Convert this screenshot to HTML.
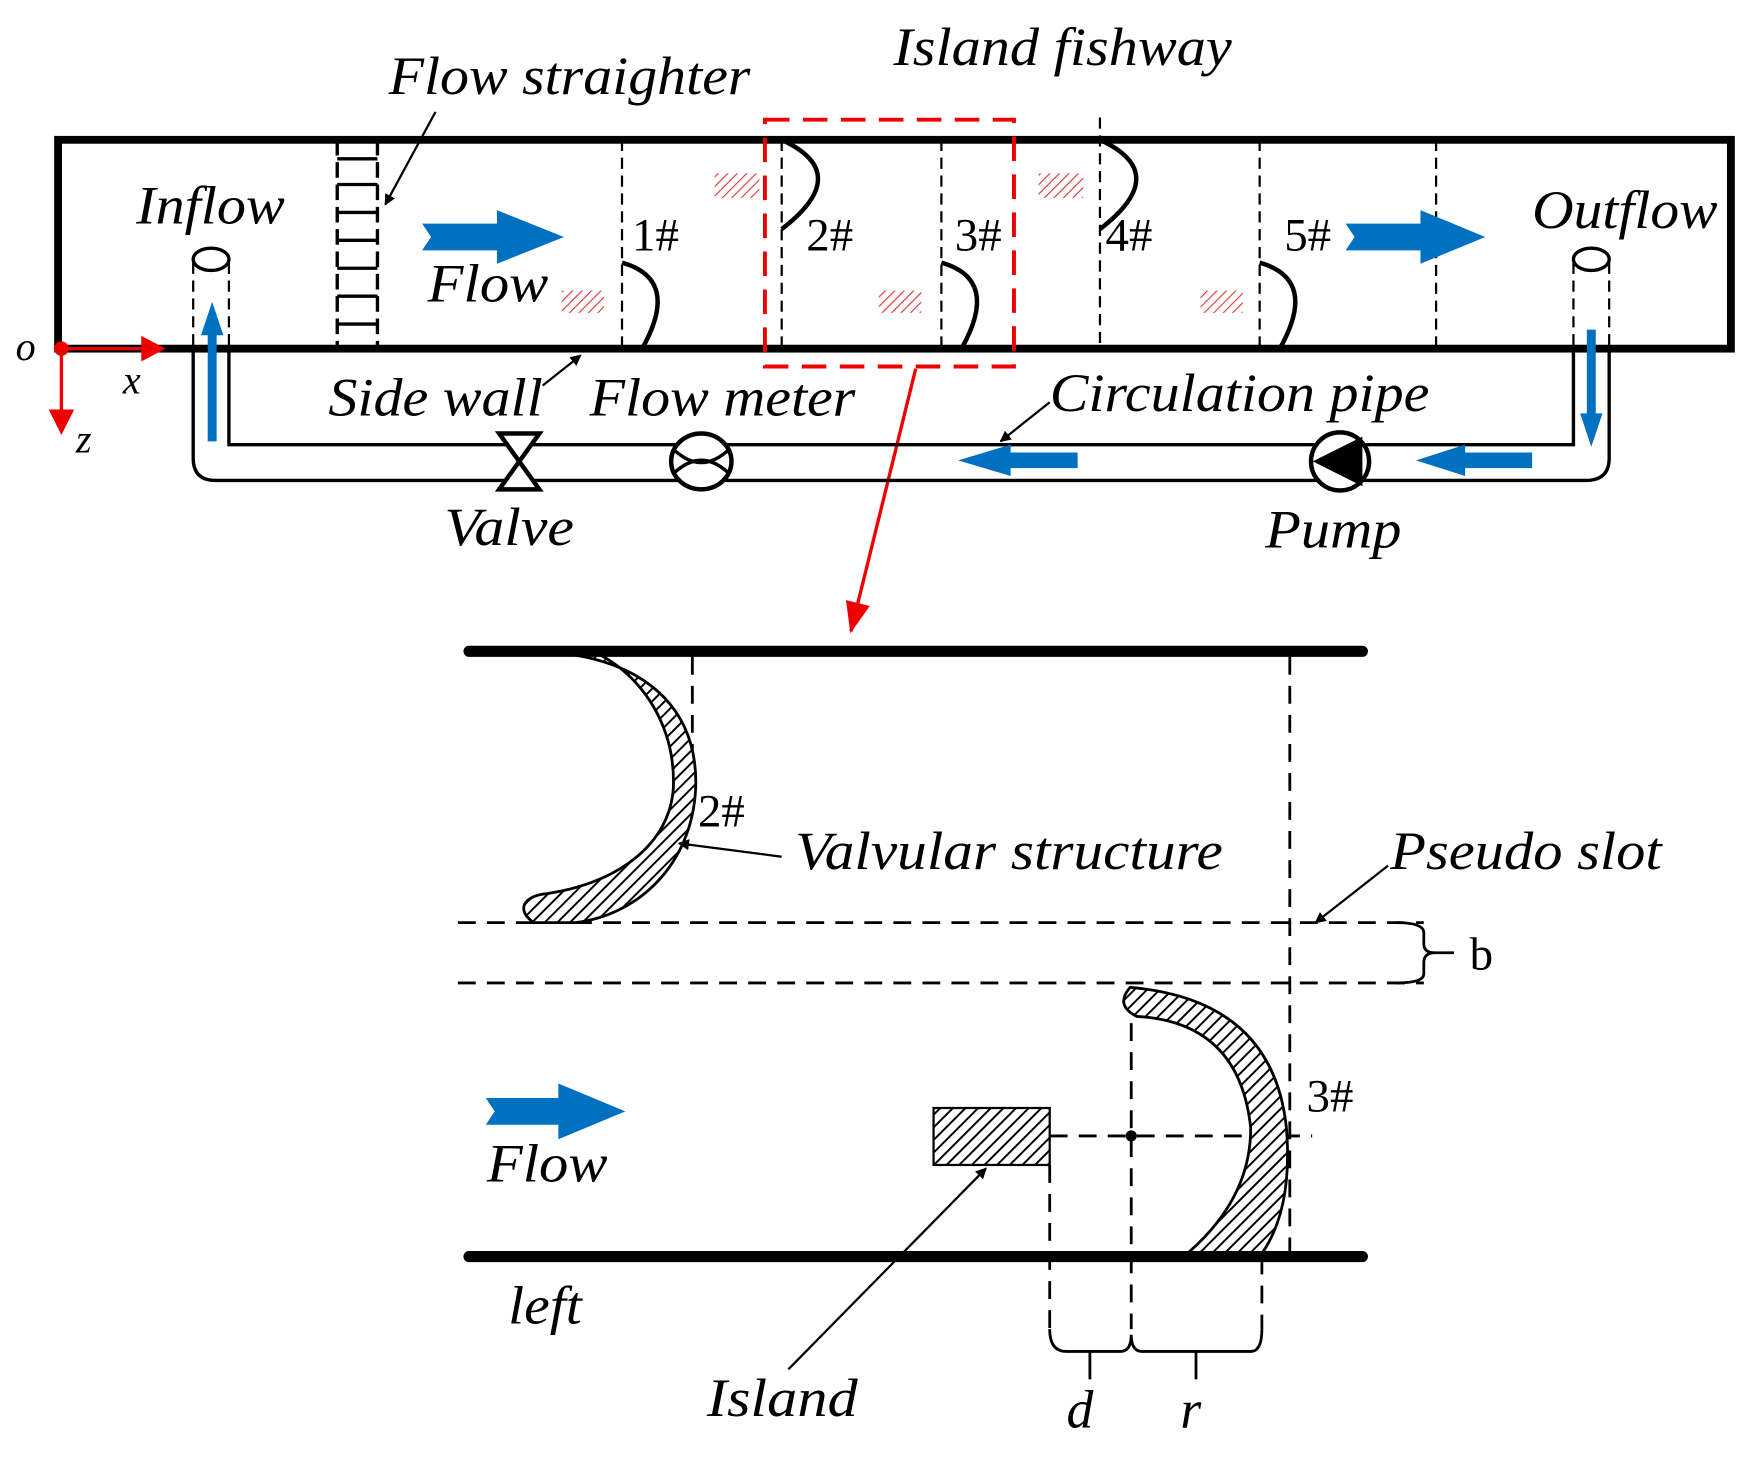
<!DOCTYPE html>
<html><head><meta charset="utf-8"><style>html,body{margin:0;padding:0;background:#fff}svg{display:block}</style></head>
<body>
<svg width="1751" height="1460" viewBox="0 0 1568 1307" xmlns="http://www.w3.org/2000/svg" font-family="Liberation Serif, serif" font-style="italic">
<defs>
<pattern id="h" width="8" height="8" patternUnits="userSpaceOnUse" patternTransform="rotate(45)"><rect width="8" height="8" fill="#fff"/><line x1="0" y1="0" x2="0" y2="8" stroke="#000" stroke-width="3.5"/></pattern>
<pattern id="hr" width="6" height="6" patternUnits="userSpaceOnUse" patternTransform="rotate(45)"><line x1="0" y1="0" x2="0" y2="6" stroke="#d33" stroke-width="2"/></pattern>
<marker id="ah" markerWidth="10" markerHeight="10" refX="9" refY="5" orient="auto" markerUnits="userSpaceOnUse"><path d="M0,0 L10,5 L0,10 Z" fill="#000"/></marker>
<marker id="ar" markerWidth="28" markerHeight="22" refX="26" refY="11" orient="auto" markerUnits="userSpaceOnUse"><path d="M0,0 L28,11 L0,22 Z" fill="#e00"/></marker>
</defs>
<rect width="1568" height="1307" fill="#fff"/>
<rect x="52" y="125" width="1498" height="187" fill="none" stroke="#000" stroke-width="7"/>
<g stroke="#000" stroke-width="2" stroke-dasharray="10,6">
<line x1="557" y1="125" x2="557" y2="312"/><line x1="700" y1="125" x2="700" y2="312"/><line x1="843" y1="125" x2="843" y2="312"/><line x1="985" y1="105" x2="985" y2="312"/><line x1="1128" y1="125" x2="1128" y2="312"/><line x1="1286" y1="125" x2="1286" y2="312"/>
<line x1="173" y1="235" x2="173" y2="312"/><line x1="205" y1="235" x2="205" y2="312"/><line x1="1409" y1="235" x2="1409" y2="312"/><line x1="1441" y1="235" x2="1441" y2="312"/>
</g>
<g stroke="#000" stroke-width="3"><line x1="302" y1="125" x2="302" y2="312" stroke-dasharray="14,6"/><line x1="338" y1="125" x2="338" y2="312" stroke-dasharray="14,6"/>
<line x1="302" y1="142" x2="338" y2="142"/><line x1="302" y1="165" x2="338" y2="165"/><line x1="302" y1="190" x2="338" y2="190"/><line x1="302" y1="215" x2="338" y2="215"/><line x1="302" y1="240" x2="338" y2="240"/><line x1="302" y1="265" x2="338" y2="265"/><line x1="302" y1="290" x2="338" y2="290"/></g>
<g fill="none" stroke="#000" stroke-width="4">
<path d="M557 235 Q610 250 575 312"/><path d="M843 235 Q896 250 861 312"/><path d="M1128 235 Q1181 250 1146 312"/>
<path d="M700 125 Q765 155 700 205"/><path d="M985 125 Q1050 155 985 205"/>
</g>
<g fill="url(#hr)"><rect x="640" y="155" width="40" height="22"/><rect x="930" y="155" width="40" height="22"/><rect x="503" y="260" width="38" height="20"/><rect x="787" y="260" width="38" height="20"/><rect x="1075" y="260" width="38" height="20"/></g>
<rect x="685" y="107" width="223" height="221" fill="none" stroke="#e00" stroke-width="3.5" stroke-dasharray="22,12"/>
<line x1="820" y1="330" x2="762" y2="565" stroke="#e00" stroke-width="3" marker-end="url(#ar)"/>
<g fill="none" stroke="#000" stroke-width="3"><path d="M173 312 V410 Q173 430 193 430 H1420 Q1441 430 1441 410 V312"/><path d="M205 312 V398 H1409 V312"/></g>
<ellipse cx="189" cy="232" rx="16" ry="10" fill="#fff" stroke="#000" stroke-width="3"/>
<ellipse cx="1425" cy="232" rx="16" ry="10" fill="#fff" stroke="#000" stroke-width="3"/>
<g stroke="#000" stroke-width="4"><path d="M447 388 H483 L447 438 H483 Z" fill="#fff"/>
<ellipse cx="628" cy="413" rx="27" ry="25" fill="#fff"/><path d="M604 403 Q628 425 652 403 M604 423 Q628 401 652 423" fill="none" stroke-width="3"/>
<circle cx="1200" cy="413" r="26" fill="#fff"/><path d="M1218 394 L1180 413 L1218 432 Z" fill="#000"/></g>
<g fill="#0070c0">
<path d="M378 200 H445 V188 L505 212 L445 236 V224 H378 L386 212 Z"/>
<path d="M1205 200 H1272 V188 L1330 212 L1272 236 V224 H1205 L1213 212 Z"/>
<path d="M435 983 H500 V970 L560 995 L500 1020 V1007 H435 L443 995 Z"/>
<path d="M965 405 H905 V398 L858 412 L905 426 V419 H965 Z"/>
<path d="M1372 405 H1312 V398 L1268 412 L1312 426 V419 H1372 Z"/>
<path d="M186 395 V300 H180 L190 270 L200 300 H194 V395 Z"/>
<path d="M1421 295 V370 H1415 L1425 400 L1435 370 H1429 V295 Z"/>
</g>
<g stroke="#e00" stroke-width="3" fill="#e00"><line x1="55" y1="312" x2="128" y2="312"/><path d="M128 303 L145 312 L128 321Z"/><line x1="55" y1="312" x2="55" y2="370"/><path d="M46 368 L55 386 L64 368Z"/><circle cx="55" cy="312" r="5"/></g>
<g font-size="48" fill="#000">
<text x="348" y="84" textLength="324" lengthAdjust="spacingAndGlyphs">Flow straighter</text>
<text x="800" y="58" textLength="303" lengthAdjust="spacingAndGlyphs">Island fishway</text>
<text x="122" y="200" textLength="133" lengthAdjust="spacingAndGlyphs">Inflow</text>
<text x="1372" y="204" textLength="166" lengthAdjust="spacingAndGlyphs">Outflow</text>
<text x="383" y="270" textLength="108" lengthAdjust="spacingAndGlyphs">Flow</text>
<text x="294" y="372" textLength="192" lengthAdjust="spacingAndGlyphs">Side wall</text>
<text x="528" y="372" textLength="238" lengthAdjust="spacingAndGlyphs">Flow meter</text>
<text x="940" y="368" textLength="340" lengthAdjust="spacingAndGlyphs">Circulation pipe</text>
<text x="398" y="488" textLength="116" lengthAdjust="spacingAndGlyphs">Valve</text>
<text x="1133" y="490" textLength="122" lengthAdjust="spacingAndGlyphs">Pump</text>
<text x="14" y="322" font-size="36">o</text>
<text x="110" y="352" font-size="36">x</text>
<text x="68" y="405" font-size="36">z</text>
</g>
<g font-size="42" font-style="normal" fill="#000"><text x="566" y="224">1#</text><text x="722" y="224">2#</text><text x="855" y="224">3#</text><text x="990" y="224">4#</text><text x="1150" y="224">5#</text></g>
<line x1="390" y1="100" x2="345" y2="183" stroke="#000" stroke-width="2" marker-end="url(#ah)"/>
<line x1="486" y1="345" x2="520" y2="318" stroke="#000" stroke-width="2" marker-end="url(#ah)"/>
<line x1="940" y1="360" x2="896" y2="395" stroke="#000" stroke-width="2" marker-end="url(#ah)"/>
<g stroke="#000" stroke-width="2.5" stroke-dasharray="16,10" fill="none">
<line x1="410" y1="826" x2="1275" y2="826"/><line x1="410" y1="880" x2="1275" y2="880"/>
<line x1="620" y1="588" x2="620" y2="680"/><line x1="1155" y1="588" x2="1155" y2="1125"/>
<line x1="940" y1="1017" x2="1175" y2="1017"/>
<line x1="940" y1="1043" x2="940" y2="1190"/><line x1="1013" y1="890" x2="1013" y2="1190"/><line x1="1130" y1="1125" x2="1130" y2="1190"/>
</g>
<path d="M1250 826 Q1275 826 1275 835 V845 Q1275 853 1285 853 Q1275 853 1275 862 V872 Q1275 880 1250 880" fill="none" stroke="#000" stroke-width="2.5"/>
<line x1="1285" y1="853" x2="1302" y2="853" stroke="#000" stroke-width="2.5"/>
<g fill="none" stroke="#000" stroke-width="2.5"><path d="M940 1190 Q940 1210 955 1210 H1003 Q1013 1210 1013 1195 Q1013 1210 1023 1210 H1120 Q1130 1210 1130 1190"/><line x1="976" y1="1210" x2="976" y2="1235"/><line x1="1071" y1="1210" x2="1071" y2="1235"/></g>
<circle cx="1013" cy="1017" r="5" fill="#000"/>
<rect x="836" y="992" width="104" height="51" fill="url(#h)" stroke="#000" stroke-width="2"/>
<path d="M505 585 C585 595 625 640 623 705 C620 775 570 820 515 826 L478 826 C462 815 468 802 490 800 C555 790 600 755 603 705 C605 650 575 605 535 585 Z" fill="url(#h)" stroke="#000" stroke-width="2.5"/>
<path d="M1012 884 Q1140 895 1152 1010 Q1158 1085 1128 1125 L1060 1125 Q1120 1075 1120 1010 Q1110 915 1018 910 Q998 900 1012 884 Z" fill="url(#h)" stroke="#000" stroke-width="2.5"/>
<line x1="420" y1="583" x2="1220" y2="583" stroke="#000" stroke-width="10" stroke-linecap="round"/>
<line x1="420" y1="1125" x2="1220" y2="1125" stroke="#000" stroke-width="10" stroke-linecap="round"/>
<line x1="700" y1="767" x2="608" y2="755" stroke="#000" stroke-width="2" marker-end="url(#ah)"/>
<line x1="1243" y1="775" x2="1178" y2="826" stroke="#000" stroke-width="2" marker-end="url(#ah)"/>
<line x1="706" y1="1226" x2="883" y2="1046" stroke="#000" stroke-width="2" marker-end="url(#ah)"/>
<g font-size="48" fill="#000">
<text x="712" y="778" textLength="383" lengthAdjust="spacingAndGlyphs">Valvular structure</text>
<text x="1245" y="778" textLength="243" lengthAdjust="spacingAndGlyphs">Pseudo slot</text>
<text x="436" y="1058" textLength="108" lengthAdjust="spacingAndGlyphs">Flow</text>
<text x="455" y="1185" textLength="66" lengthAdjust="spacingAndGlyphs">left</text>
<text x="633" y="1268" textLength="135" lengthAdjust="spacingAndGlyphs">Island</text>
<text x="955" y="1278">d</text>
<text x="1057" y="1278">r</text>
</g>
<g font-size="42" font-style="normal" fill="#000"><text x="625" y="740">2#</text><text x="1170" y="995">3#</text><text x="1316" y="868">b</text></g>
</svg>
</body></html>
